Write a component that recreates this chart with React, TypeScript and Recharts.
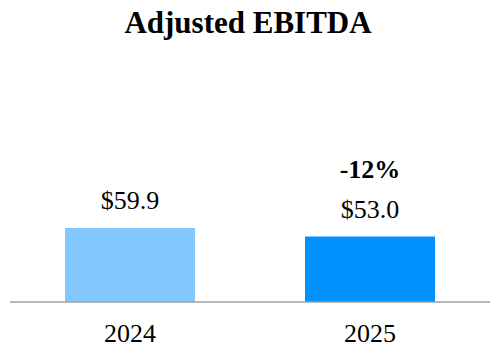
import { Bar, BarChart, Cell, LabelList, XAxis, YAxis } from "recharts";

const YEARS = ["2024", "2025"];
const EBITDA = [59.9, 53.0];
const CHANGE_LABELS = ["", "-12%"];
const BAR_COLORS = ["#82C8FF", "#0091FF"];

const SERIF = "'Liberation Serif', 'Times New Roman', serif";

const data = YEARS.map((year, i) => ({ year, value: EBITDA[i], change: CHANGE_LABELS[i] }));

export default function App() {
  return (
    <div style={{ position: "relative", width: 500, height: 360, background: "#fff" }}>
      <style>{`body{margin:0}`}</style>
      <svg width={500} height={60} style={{ position: "absolute", left: 0, top: 0 }}>
        <text x={248} y={33} textAnchor="middle" fontFamily={SERIF} fontWeight="bold" fontSize={31} fill="#000">
          Adjusted EBITDA
        </text>
      </svg>
      <div style={{ position: "absolute", left: 0, top: 0 }}>
        <BarChart width={500} height={360} data={data} margin={{ top: 60, right: 10, bottom: 18, left: 10 }}>
          <XAxis
            dataKey="year"
            height={40}
            tickLine={false}
            tickMargin={16}
            axisLine={{ stroke: "#a0a0a0", strokeWidth: 1.5 }}
            tick={{ fontFamily: SERIF, fontSize: 26, fill: "#000" }}
          />
          <YAxis hide domain={[0, 196]} />
          <Bar dataKey="value" barSize={130} isAnimationActive={false}>
            {data.map((d, i) => (
              <Cell key={d.year} fill={BAR_COLORS[i]} />
            ))}
            <LabelList
              dataKey="value"
              position="top"
              offset={19}
              formatter={(v: number) => `$${v.toFixed(1)}`}
              style={{ fontFamily: SERIF, fontSize: 26, fill: "#000" }}
            />
            <LabelList
              dataKey="change"
              position="top"
              offset={59}
              style={{ fontFamily: SERIF, fontSize: 26, fontWeight: "bold", fill: "#000" }}
            />
          </Bar>
        </BarChart>
      </div>
    </div>
  );
}
